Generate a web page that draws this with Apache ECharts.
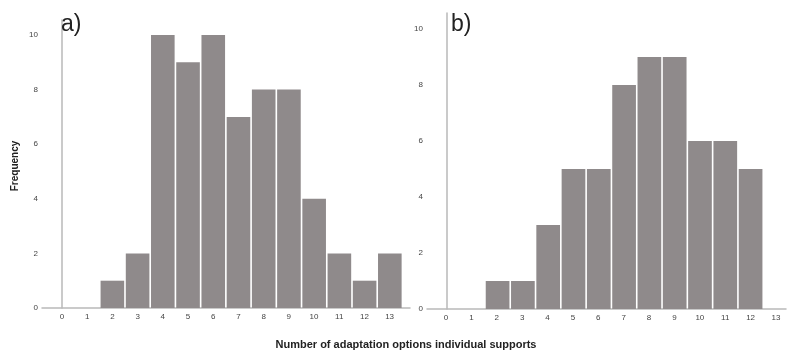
<!DOCTYPE html>
<html>
<head>
<meta charset="utf-8">
<script src="https://cdn.jsdelivr.net/npm/echarts@6/dist/echarts.min.js"></script>
<style>
  html, body { margin: 0; padding: 0; background: #fff; }
  #chart { width: 790px; height: 351px; }
</style>
</head>
<body>
<div id="chart"></div>
<script>
// Number of adaptation options each respondent supports (0..13)
const options = [0, 1, 2, 3, 4, 5, 6, 7, 8, 9, 10, 11, 12, 13];
const freqA = [0, 0, 1, 2, 10, 9, 10, 7, 8, 8, 4, 2, 1, 2];
const freqB = [0, 0, 1, 1, 3, 5, 5, 8, 9, 9, 6, 6, 5, 0];
const yTicks = [0, 2, 4, 6, 8, 10];

const barColor = '#8f8a8b';
const axisColor = '#b9b9b9';
const font = 'Liberation Sans, Arial, sans-serif';

function pairs(vals) {
  return options.map((x, i) => [x, vals[i]]);
}

// Plot axis: carries the bars and the baseline, with a little room left of 0
function plotXAxis(idx, max) {
  return {
    type: 'value', gridIndex: idx, min: -0.79, max: max,
    splitLine: { show: false },
    axisTick: { show: false },
    axisLabel: { show: false },
    axisLine: { show: true, lineStyle: { color: axisColor, width: 1.5 } }
  };
}

// Label axis: spans exactly 0..13 so ticks fall on whole numbers
function labelXAxis(idx) {
  return {
    type: 'value', gridIndex: idx, min: options[0], max: options[options.length - 1], interval: 1,
    splitLine: { show: false },
    axisTick: { show: false },
    axisLine: { show: false },
    axisLabel: { margin: 5, fontSize: 8, color: '#444', fontFamily: font }
  };
}

function yAxisFor(idx, max) {
  return {
    type: 'value', gridIndex: idx, min: 0, max: max, interval: 2,
    splitLine: { show: false },
    axisTick: { show: false },
    axisLine: { show: true, lineStyle: { color: axisColor, width: 1.5 } },
    axisLabel: {
      margin: 4, fontSize: 8, color: '#444', fontFamily: font,
      showMaxLabel: false,
      formatter: v => (yTicks.includes(v) ? String(v) : '')
    }
  };
}

function hiddenY(idx) {
  return { type: 'value', gridIndex: idx, min: 0, max: 1, show: false };
}

const chart = echarts.init(document.getElementById('chart'), null, { renderer: 'canvas' });
chart.setOption({
  animation: false,
  backgroundColor: '#ffffff',
  grid: [
    { left: 42, top: 20, width: 368, height: 288 },
    { left: 427, top: 13, width: 359, height: 296 },
    { left: 62, top: 20, width: 327.6, height: 288 },
    { left: 446, top: 13, width: 330, height: 296 }
  ],
  xAxis: [plotXAxis(0, 13.8), plotXAxis(1, 13.4), labelXAxis(2), labelXAxis(3)],
  yAxis: [yAxisFor(0, 10.55), yAxisFor(1, 10.57), hiddenY(2), hiddenY(3)],
  title: [
    { text: 'a)', left: 56, top: 8, textStyle: { fontSize: 23, fontWeight: 'normal', color: '#222', fontFamily: font } },
    { text: 'b)', left: 446, top: 8, textStyle: { fontSize: 23, fontWeight: 'normal', color: '#222', fontFamily: font } }
  ],
  graphic: [
    {
      type: 'text', x: 15, y: 166, rotation: Math.PI / 2,
      style: { text: 'Frequency', font: 'bold 10px ' + font, fill: '#222', align: 'center', verticalAlign: 'middle' }
    },
    {
      type: 'text', x: 406, y: 345,
      style: { text: 'Number of adaptation options individual supports', font: 'bold 11px ' + font, fill: '#222', align: 'center', verticalAlign: 'middle' }
    }
  ],
  series: [
    {
      type: 'bar', xAxisIndex: 0, yAxisIndex: 0, barWidth: 23.6,
      itemStyle: { color: barColor }, data: pairs(freqA)
    },
    {
      type: 'bar', xAxisIndex: 1, yAxisIndex: 1, barWidth: 23.7,
      itemStyle: { color: barColor }, data: pairs(freqB)
    }
  ]
});
</script>
</body>
</html>
